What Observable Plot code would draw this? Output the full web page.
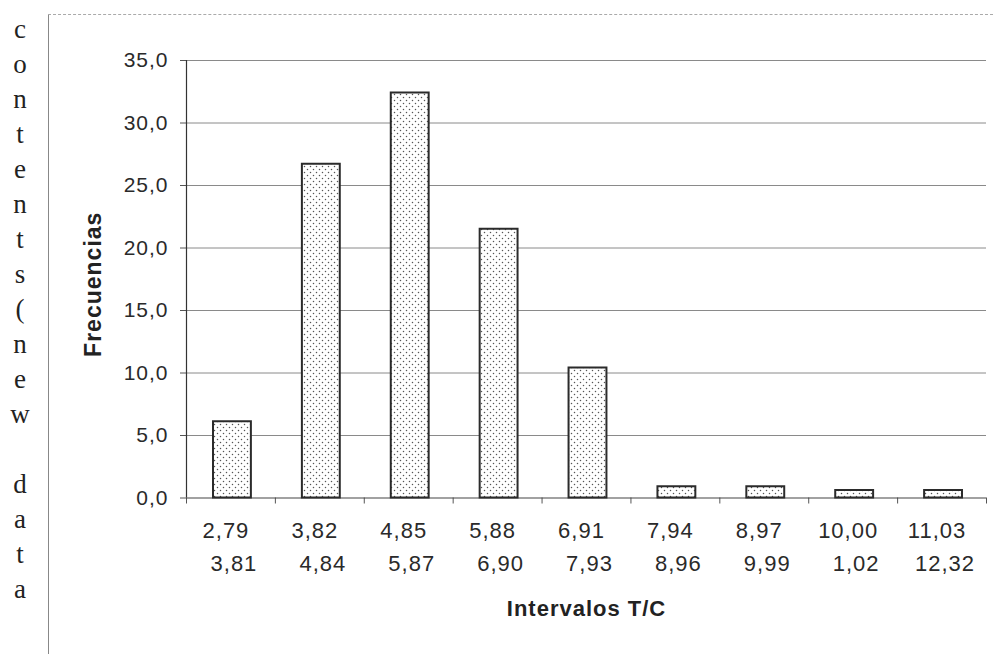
<!DOCTYPE html>
<html><head><meta charset="utf-8">
<script src="https://cdn.jsdelivr.net/npm/d3@7"></script>
<script src="https://cdn.jsdelivr.net/npm/@observablehq/plot@0.6"></script>
<style>
body{margin:0;background:#fff;}
#wrap{position:relative;width:993px;height:654px;overflow:hidden;background:#fff;}
#wrap > svg.plot{position:absolute;left:0;top:0;}
#wrap > svg text{letter-spacing:1px;}
#side{position:absolute;left:8px;top:12px;width:24px;font-family:"Liberation Serif","Times New Roman",serif;font-size:27px;line-height:35px;color:#222;text-align:center;z-index:2;}
#side span{display:block;height:35px;}
#vline{position:absolute;left:48px;top:14px;width:1px;height:640px;background:#888;z-index:2;}
#hline{position:absolute;left:48px;top:14px;width:945px;height:0;border-top:1px dashed #aaa;z-index:2;}
#wrap > svg text.ytitle{letter-spacing:0.5px;}
</style></head>
<body>
<div id="wrap">
<svg width="0" height="0" style="position:absolute">
  <defs>
    <pattern id="dots" width="6" height="6" patternUnits="userSpaceOnUse">
      <rect width="6" height="6" fill="#fff"/>
      <circle cx="1.5" cy="1.5" r="0.75" fill="#555"/>
      <circle cx="4.5" cy="4.5" r="0.75" fill="#555"/>
    </pattern>
  </defs>
</svg>
<div id="side"></div><div id="vline"></div><div id="hline"></div>
</div>
<script>
const intervalStart = ["2,79","3,82","4,85","5,88","6,91","7,94","8,97","10,00","11,03"];
const intervalEnd   = ["3,81","4,84","5,87","6,90","7,93","8,96","9,99","1,02","12,32"];
const frecuencias   = [6.1, 26.7, 32.4, 21.5, 10.4, 0.9, 0.9, 0.6, 0.6];
const yTicks = [0, 5, 10, 15, 20, 25, 30, 35];
const xBoundaries = [0, 1, 2, 3, 4, 5, 6, 7, 8, 9];
const sideLetters = ["c","o","n","t","e","n","t","s","(","n","e","w"," ","d","a","t","a"];
const yTitle = "Frecuencias";
const xTitle = "Intervalos T/C";

const data = frecuencias.map((v, i) => ({i, v, a: intervalStart[i], b: intervalEnd[i]}));
const fmt = d => d.toFixed(1).replace(".", ",");

const chart = Plot.plot({
  width: 993, height: 654,
  marginLeft: 186, marginRight: 7, marginTop: 60, marginBottom: 156.5,
  style: {fontFamily: "'Liberation Sans', Arial, sans-serif", color: "#2a2a2a", background: "transparent"},
  x: {domain: [0, 9], axis: null},
  y: {domain: [0, 35], axis: null},
  marks: [
    Plot.gridY(yTicks.filter(d => d > 0), {stroke: "#8a8a8a", strokeOpacity: 1, strokeWidth: 1}),
    Plot.axisY(yTicks, {tickSize: 6, tickPadding: 12, tickFormat: fmt, fontSize: 21, label: null, stroke: "#555"}),
    Plot.axisX(xBoundaries, {tickSize: 6, tickFormat: () => "", label: null, stroke: "#555"}),
    Plot.ruleX([0], {y1: 0, y2: 35, stroke: "#333", strokeWidth: 1.2}),
    Plot.ruleY([0], {stroke: "#444", strokeWidth: 1.2}),
    Plot.rectY(data, {x1: d => d.i, x2: d => d.i + 1, y: "v", insetLeft: 27, insetRight: 24,
      fill: "url(#dots)", stroke: "#2b2b2b", strokeWidth: 2}),
    Plot.text(data, {x: d => d.i + 0.5, y: () => 0, text: "a", dy: 32.5, dx: -5, fontSize: 22, fill: "#2a2a2a"}),
    Plot.text(data, {x: d => d.i + 0.5, y: () => 0, text: "b", dy: 65.5, dx: 3, fontSize: 22, fill: "#2a2a2a"}),
    Plot.text([xTitle], {x: () => 4.5, y: () => 0, text: d => d, dy: 110.5, fontSize: 22, fontWeight: "bold", fill: "#222"}),
    Plot.text([yTitle], {frameAnchor: "left", textAnchor: "middle", text: d => d, dx: -93, dy: 5, rotate: -90, fontSize: 23, fontWeight: "bold", fill: "#222", className: "ytitle"})
  ]
});
document.getElementById("wrap").appendChild(chart);
const side = document.getElementById("side");
sideLetters.forEach(c => { const s = document.createElement("span"); s.textContent = c === " " ? "\u00a0" : c; side.appendChild(s); });
</script>
</body></html>
